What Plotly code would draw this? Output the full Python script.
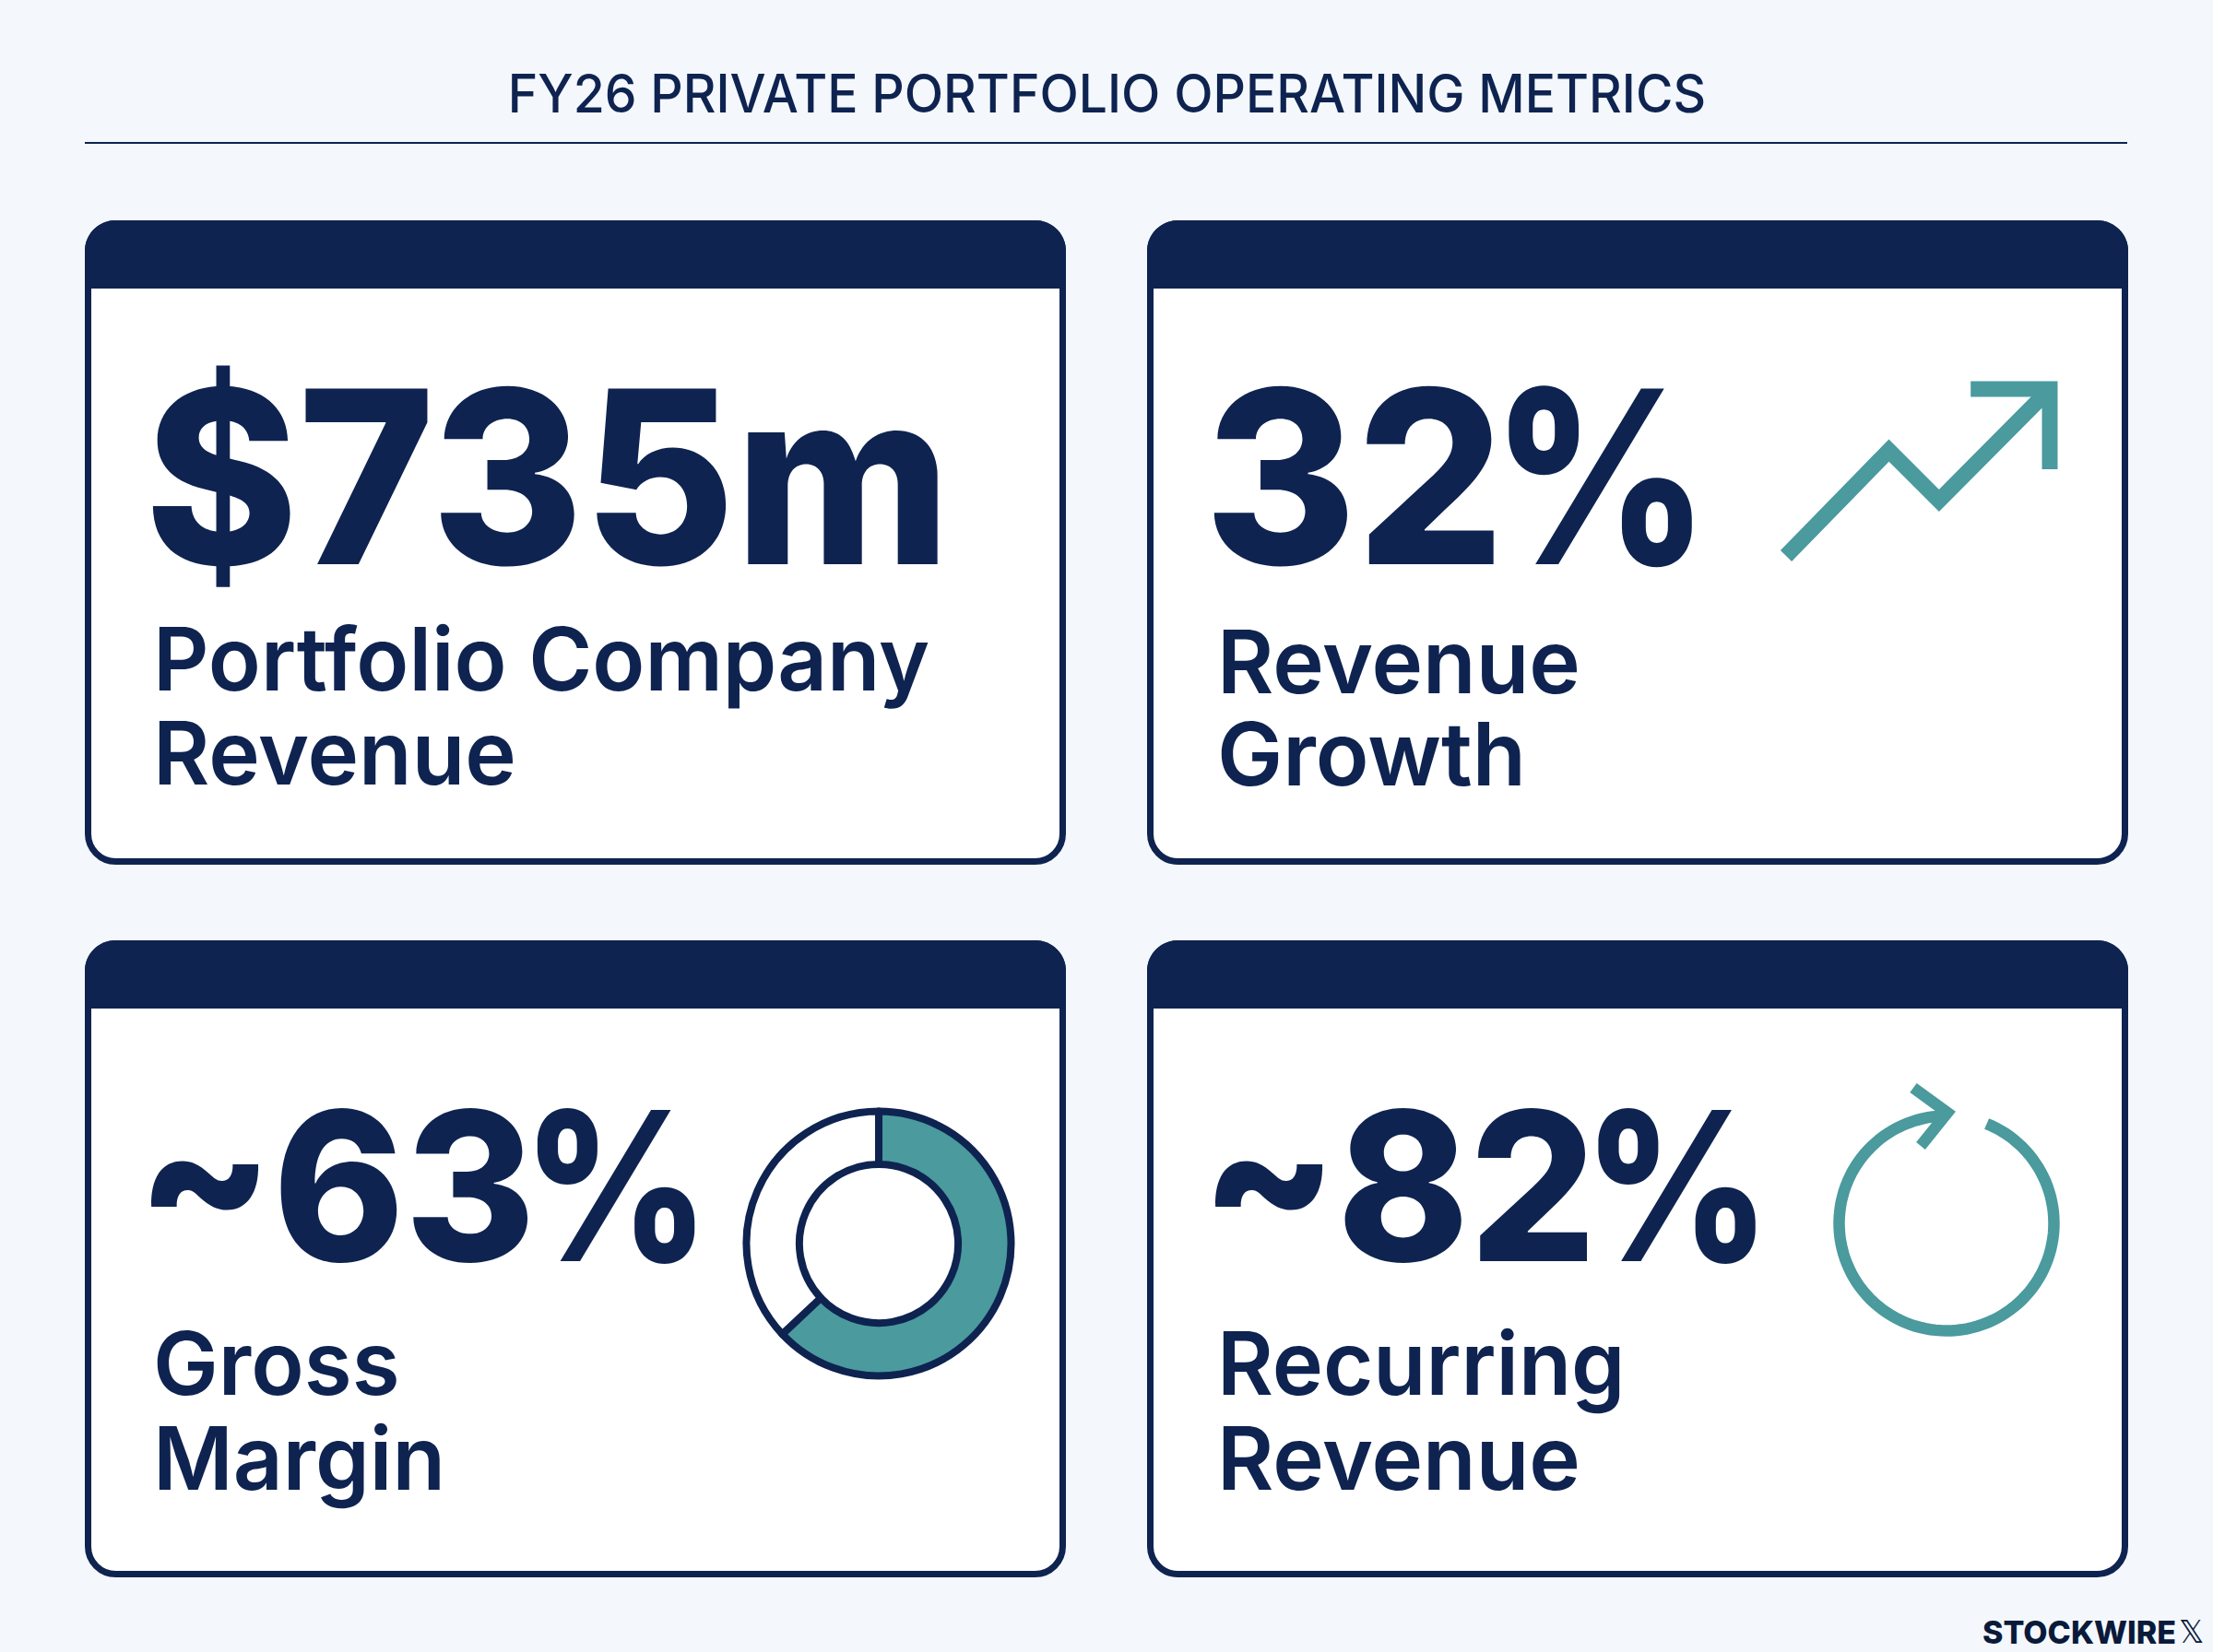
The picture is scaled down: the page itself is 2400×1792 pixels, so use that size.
import json
import numpy as np
import plotly.graph_objects as go

W, H = 2400, 1792
NAVY = '#0e2350'
TEAL = '#4a9a9e'
BG = '#f4f8fc'
FONT = 'Inter'

TITLE = 'FY26 PRIVATE PORTFOLIO OPERATING METRICS'
VALUES = ['$735m', '32%', '~63%', '~82%']
VALUE_SIZES = [262, 262, 225, 225]
LABELS = [['Portfolio Company', 'Revenue'], ['Revenue', 'Growth'], ['Gross', 'Margin'], ['Recurring', 'Revenue']]

# gross margin donut
MARGIN_SPLIT = [63, 37]

# trend icon, in percent of the icon box
TREND_X = [0, 39, 58, 100]
TREND_Y = [0, 40, 21, 63.3]
ARROW_X = [70, 100, 100]
ARROW_Y = [63.3, 63.3, 32.9]

COLS = [(92, 1156), (1244, 2308)]
ROWS = [(239, 313, 938), (1020, 1094, 1711)]
VALUE_POS = [(155, 516), (1304, 516), (146, 1286), (1300, 1286)]
LABEL_POS = [(164, 714, 816), (1318, 717, 817), (164, 1478, 1581), (1318, 1478, 1581)]

# Inter runs wider than the reference lettering, squeeze it per string
TEXT_SCALE = {TITLE: 0.969, '$735m': 0.962,
              'Portfolio Company': 0.987, 'Revenue': 0.99, 'Growth': 1.0, 'Gross': 0.995,
              'Margin': 0.99, 'Recurring': 0.983}
DIGIT_SCALE = 0.96
PERCENT_SCALE = 0.875
PERCENT_SHIFT = -14


def rounded(x0, y0, x1, y1, r, square_bottom=False):
    k = r * 0.45
    p = f'M{x0},{y0 + r} C{x0},{y0 + k} {x0 + k},{y0} {x0 + r},{y0} L{x1 - r},{y0} '
    p += f'C{x1 - k},{y0} {x1},{y0 + k} {x1},{y0 + r} '
    if square_bottom:
        return p + f'L{x1},{y1} L{x0},{y1} Z'
    p += f'L{x1},{y1 - r} C{x1},{y1 - k} {x1 - k},{y1} {x1 - r},{y1} '
    p += f'L{x0 + r},{y1} C{x0 + k},{y1} {x0},{y1 - k} {x0},{y1 - r} Z'
    return p


def arc(cx, cy, r, a0, a1, n=120):
    # angles clockwise from 12 o'clock, in degrees
    t = np.radians(np.linspace(a0, a1, n))
    pts = [f'{cx + r * np.sin(a):.1f},{cy - r * np.cos(a):.1f}' for a in t]
    return 'M' + ' L'.join(pts)


shapes = []
shapes.append(dict(type='line', x0=92, x1=2307, y0=155, y1=155, layer='below', line=dict(color=NAVY, width=2)))
for top, head, bottom in ROWS:
    for left, right in COLS:
        shapes.append(dict(type='path', path=rounded(left + 3.5, top + 3.5, right - 3.5, bottom - 3.5, 30),
                           fillcolor='white', layer='below', line=dict(color=NAVY, width=7)))
        shapes.append(dict(type='path', path=rounded(left, top, right, head, 33, True),
                           fillcolor=NAVY, layer='below', line=dict(width=0)))

# recurring revenue icon
shapes.append(dict(type='path', path=arc(2111, 1327, 116.5, 22, 358), line=dict(color=TEAL, width=12.5)))
shapes.append(dict(type='path', path='M2075,1180 L2112,1207 L2083,1243', line=dict(color=TEAL, width=12.5)))

annotations = []


def add_text(x, y, text, size, weight, color=NAVY, anchor='left', family=FONT):
    annotations.append(dict(x=x, y=y, xref='x', yref='y', text=text, showarrow=False, xanchor=anchor,
                            align=anchor, yanchor='middle',
                            font=dict(family=family, size=size, weight=weight, color=color)))


add_text(1200, 101, TITLE, 57, 500, anchor='center')
for i in range(4):
    add_text(VALUE_POS[i][0], VALUE_POS[i][1], VALUES[i], VALUE_SIZES[i], 800)
    add_text(LABEL_POS[i][0], LABEL_POS[i][1], LABELS[i][0], 95, 600)
    add_text(LABEL_POS[i][0], LABEL_POS[i][2], LABELS[i][1], 95, 600)
add_text(2362, 1770, 'STOCKWIRE', 34, 800, color='#0a1a3a', anchor='right')
add_text(2392, 1770, '𝕏', 34, 400, color='#0a1a3a', anchor='right', family='DejaVu Sans')

fig = go.Figure()
# keeps the pixel axes alive under the shapes and text
fig.add_trace(go.Scatter(x=[0, W], y=[0, H], mode='markers', marker=dict(opacity=0), hoverinfo='skip'))
fig.add_trace(go.Scatter(x=TREND_X, y=TREND_Y, mode='lines', line=dict(color=TEAL, width=17),
                         xaxis='x2', yaxis='y2'))
fig.add_trace(go.Scatter(x=ARROW_X, y=ARROW_Y, mode='lines', line=dict(color=TEAL, width=17),
                         xaxis='x2', yaxis='y2'))
fig.add_trace(go.Pie(values=MARGIN_SPLIT, sort=False, direction='clockwise', rotation=0, hole=0.60,
                     marker=dict(colors=[TEAL, 'white'], line=dict(color=NAVY, width=8)),
                     textinfo='none', hoverinfo='skip',
                     domain=dict(x=[(953 - 143.5) / W, (953 + 143.5) / W],
                                 y=[1 - (1349 + 143.5) / H, 1 - (1349 - 143.5) / H])))

# 10 units of padding on the icon axes so the thick line is not clipped, 2.86 px per unit
fig.update_layout(
    width=W, height=H, margin=dict(l=0, r=0, t=0, b=0), showlegend=False,
    paper_bgcolor=BG, plot_bgcolor='rgba(0,0,0,0)', shapes=shapes, annotations=annotations,
    xaxis=dict(range=[0, W], visible=False),
    yaxis=dict(range=[H, 0], visible=False),
    xaxis2=dict(range=[-10, 110], domain=[(1937 - 28.6) / W, (2223 + 28.6) / W], visible=False, anchor='y2'),
    yaxis2=dict(range=[-10, 73.3], domain=[1 - (603 + 28.6) / H, 1 - (422 - 28.6) / H], visible=False, anchor='x2'),
)

post = """
document.body.style.margin = '0';
var scales = %s;
document.querySelectorAll('text.annotation-text').forEach(function (t) {
    var txt = t.textContent;
    if (txt.endsWith('%%')) {
        // number and percent sign are squeezed by different amounts
        var n = txt.length - 1;
        var w1 = t.getSubStringLength(0, n), w2 = t.getSubStringLength(n, 1);
        t.textContent = '';
        var a = document.createElementNS('http://www.w3.org/2000/svg', 'tspan');
        var b = document.createElementNS('http://www.w3.org/2000/svg', 'tspan');
        a.textContent = txt.slice(0, n);
        b.textContent = '%%';
        a.setAttribute('textLength', w1 * %f);
        b.setAttribute('textLength', w2 * %f);
        a.setAttribute('lengthAdjust', 'spacingAndGlyphs');
        b.setAttribute('lengthAdjust', 'spacingAndGlyphs');
        b.setAttribute('dx', %d);
        t.appendChild(a);
        t.appendChild(b);
    } else if (scales[txt]) {
        t.setAttribute('textLength', t.getComputedTextLength() * scales[txt]);
        t.setAttribute('lengthAdjust', 'spacingAndGlyphs');
    }
});
""" % (json.dumps(TEXT_SCALE), DIGIT_SCALE, PERCENT_SCALE, PERCENT_SHIFT)

fig.write_html('out.html', config={'displayModeBar': False}, post_script=post)
